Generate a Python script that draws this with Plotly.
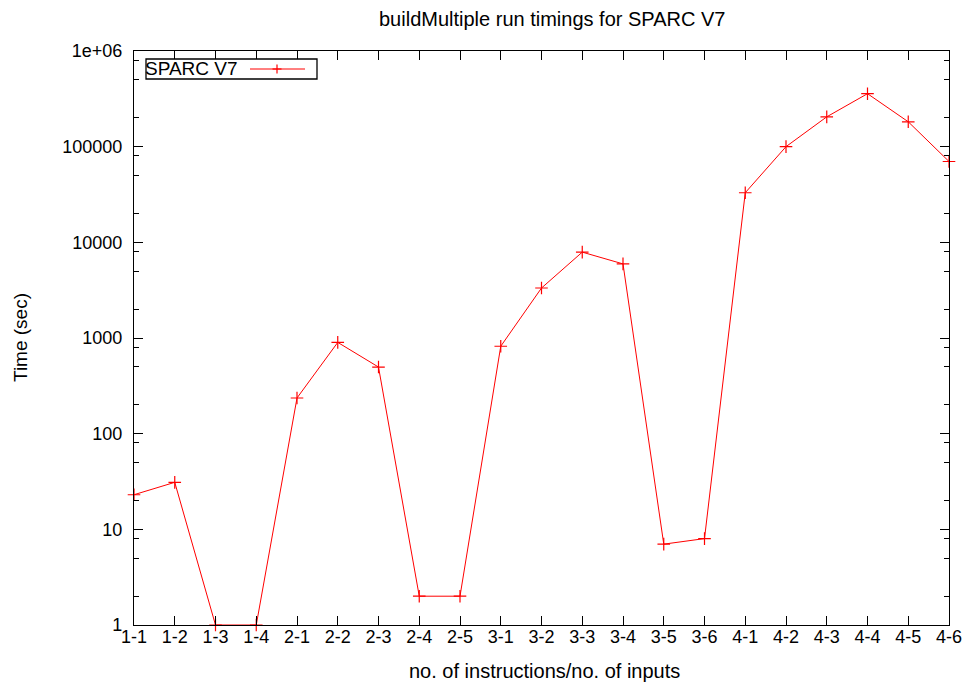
import plotly.graph_objects as go

categories = ["1-1", "1-2", "1-3", "1-4", "2-1", "2-2", "2-3", "2-4", "2-5",
              "3-1", "3-2", "3-3", "3-4", "3-5", "3-6",
              "4-1", "4-2", "4-3", "4-4", "4-5", "4-6"]
times = [23, 31, 1, 1, 236, 900, 497, 2, 2,
         820, 3330, 7900, 5950, 7, 8,
         33000, 100000, 205000, 358000, 182000, 70000]
series_name = "SPARC V7"
y_tickvals = [1, 10, 100, 1000, 10000, 100000, 1000000]
y_ticktext = ["1", "10", "100", "1000", "10000", "100000", "1e+06"]
minor_vals = [m * 10 ** d for d in range(6) for m in (2, 5, 8)]

FONT = "Liberation Sans, Arial, Helvetica, sans-serif"
RED = "#ff0000"

fig = go.Figure()
fig.add_trace(go.Scatter(
    x=categories, y=times, mode="lines+markers", name=series_name,
    line=dict(color=RED, width=1),
    marker=dict(symbol="cross-thin", size=9, line=dict(color=RED, width=1.2)),
    cliponaxis=False, showlegend=False,
))

L, R, T, B = 134, 15, 51, 57
W, H = 964 - L - R, 682 - T - B

def px(x):
    return (x - L) / W

def py(y):
    return (682 - B - y) / H

axis_common = dict(
    showline=True, linecolor="black", linewidth=1.3, mirror="ticks",
    ticks="inside", ticklen=9, tickwidth=1.3, tickcolor="black",
    showgrid=False, zeroline=False, automargin=False,
    tickfont=dict(family=FONT, size=18, color="black"),
)

fig.update_xaxes(type="category", range=[0, len(categories) - 1],
                 ticklabelstandoff=-5, **axis_common)
fig.update_yaxes(type="log", range=[0, 6], tickmode="array",
                 tickvals=y_tickvals, ticktext=y_ticktext, ticklabelstandoff=7,
                 minor=dict(tickmode="array", tickvals=minor_vals, ticks="inside",
                            ticklen=5, tickwidth=1.3, tickcolor="black", showgrid=False),
                 **axis_common)

shapes = [
    dict(type="rect", xref="paper", yref="paper", x0=px(146), x1=px(317),
         y0=py(79), y1=py(59), line=dict(color="black", width=1.3), fillcolor="white", layer="above"),
    dict(type="line", xref="paper", yref="paper", x0=px(250), x1=px(305),
         y0=py(69), y1=py(69), line=dict(color=RED, width=1)),
    dict(type="line", xref="paper", yref="paper", xsizemode="pixel", ysizemode="pixel",
         xanchor=px(277), yanchor=py(69), x0=-4.5, x1=4.5, y0=0, y1=0, line=dict(color=RED, width=1.2)),
    dict(type="line", xref="paper", yref="paper", xsizemode="pixel", ysizemode="pixel",
         xanchor=px(277), yanchor=py(69), x0=0, x1=0, y0=-4.5, y1=4.5, line=dict(color=RED, width=1.2)),
]

annotations = [
    dict(text="buildMultiple run timings for SPARC V7", xref="paper", yref="paper",
         x=px(552), y=py(19), xanchor="center", yanchor="middle", showarrow=False,
         font=dict(family=FONT, size=20, color="black")),
    dict(text="no. of instructions/no. of inputs", xref="paper", yref="paper",
         x=px(544), y=py(671), xanchor="center", yanchor="middle", showarrow=False,
         font=dict(family=FONT, size=20, color="black")),
    dict(text="Time (sec)", xref="paper", yref="paper", textangle=-90,
         x=px(20), y=py(338), xanchor="center", yanchor="middle", showarrow=False,
         font=dict(family=FONT, size=19, color="black")),
    dict(text=series_name, xref="paper", yref="paper",
         x=px(143), y=py(69), xanchor="left", yanchor="middle", showarrow=False,
         font=dict(family=FONT, size=19, color="black")),
]

fig.update_layout(
    width=964, height=682,
    margin=dict(l=L, r=R, t=T, b=B, pad=0, autoexpand=False),
    paper_bgcolor="white", plot_bgcolor="white",
    shapes=shapes, annotations=annotations,
    font=dict(family=FONT, size=19, color="black"),
)

fig.write_html("out.html")
